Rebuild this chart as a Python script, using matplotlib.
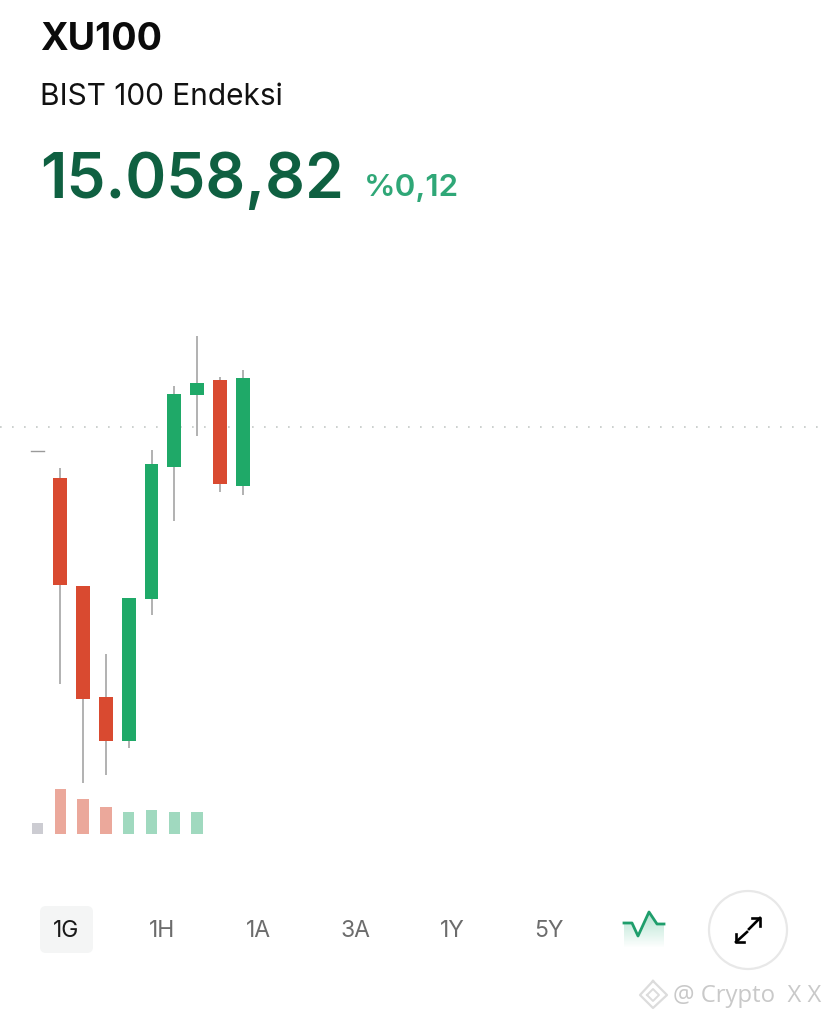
import numpy as np
import matplotlib
matplotlib.use("Agg")
import matplotlib.pyplot as plt
from matplotlib.patches import Circle, FancyBboxPatch

plt.rcParams['font.family'] = ['Inter', 'DejaVu Sans']

# candle data (price scale is estimated)
opens = [15035, 15008, 14900, 14789, 14745, 14887, 15019, 15091, 15106, 15000]
closes = [15035, 14901, 14787, 14745, 14888, 15022, 15092, 15103, 15002, 15108]
highs = [15035, 15018, 14900, 14832, 14888, 15036, 15100, 15150, 15109, 15116]
lows = [15035, 14802, 14703, 14711, 14738, 14871, 14965, 15050, 14994, 14991]
volumes = [11, 45, 35, 27, 22, 24, 22, 22]
last_price = 15059

ranges = ["1G", "1H", "1A", "3A", "1Y", "5Y"]
range_x = [66, 162, 258, 355, 452, 549]

GREEN = "#1fa968"
RED = "#d94a30"
WICK = "#9c9c9c"
W = 828
H = 1021

fig = plt.figure(figsize=(W / 100, H / 100), dpi=100, facecolor="white")

# price axes fills the figure, 1 px = 1 price unit
ax = fig.add_axes([0, 0, 1, 1])
ax.set_xlim(-37.5 / 22.8, (W - 37.5) / 22.8)
ax.set_ylim(15486 - H, 15486)
ax.axis("off")

ax.plot([ax.get_xlim()[0], (820 - 37.5) / 22.8], [last_price, last_price], color="#c4c8c6", lw=1.2,
        dashes=(1, 6.2), zorder=1)

for i in range(len(opens)):
    o, c = opens[i], closes[i]
    if o == c:
        # doji, only a small dash
        ax.plot([i - 0.3, i + 0.3], [o, o], color="#9a9a9a", lw=1, zorder=2)
        continue
    col = GREEN if c > o else RED
    ax.plot([i, i], [lows[i], highs[i]], color=WICK, lw=1.1, zorder=2, solid_capstyle="butt")
    ax.bar(i, abs(c - o), bottom=min(o, c), width=0.6, color=col, zorder=3)

# volume bars
vax = fig.add_axes([0, (H - 834) / H, 1, 60 / H])
vax.set_xlim(ax.get_xlim())
vax.set_ylim(0, 60)
vax.axis("off")
vcols = ["#ccccd2"]
for i in range(1, len(volumes)):
    vcols.append("#a0d9bf" if closes[i] > opens[i] else "#eba89b")
vax.bar(range(len(volumes)), volumes, width=0.5, color=vcols)

# overlay in pixel coordinates for header and buttons
ov = fig.add_axes([0, 0, 1, 1])
ov.set_xlim(0, W)
ov.set_ylim(H, 0)
ov.axis("off")
ov.patch.set_alpha(0)

ov.text(40, 40, "XU100", fontsize=27, fontweight="bold", color="#0b0b0b", va="center", ha="left")
ov.text(40, 97, "BIST 100 Endeksi", fontsize=21.5, color="#111111", va="center", ha="left")
ov.text(40, 181, "15.058,82", fontsize=44.8, fontweight="semibold", color="#0f6041", va="center", ha="left")
ov.text(364, 188, "%0,12", fontsize=22.6, fontweight="semibold", color="#2fa777", va="center", ha="left")

ov.add_patch(FancyBboxPatch((40, 906), 53, 47, boxstyle="round,pad=0,rounding_size=6",
                            mutation_aspect=1, fc="#f4f5f5", ec="none"))
for lab, x in zip(ranges, range_x):
    ov.text(x, 931, lab, fontsize=16.5, color="#1a1a1a" if lab == "1G" else "#6c6c6c",
            va="center", ha="center")

# chart type icon
ix = np.array([624, 632, 638, 649, 657, 664])
iy = np.array([923, 923, 936, 912, 924, 924])
grad = np.linspace(0.4, 0, 64).reshape(-1, 1)
gcol = np.zeros((64, 1, 4))
gcol[:, :, :3] = matplotlib.colors.to_rgb("#3fb98a")
gcol[:, :, 3] = grad
im = ov.imshow(gcol, extent=(624, 664, 948, 912), aspect="auto", zorder=2)
clip = ov.fill(np.r_[ix, 664, 624], np.r_[iy, 948, 948], color="none")[0]
im.set_clip_path(clip)
ov.plot(ix, iy, color="#1f9e6c", lw=2, zorder=3, solid_joinstyle="round")
ov.set_xlim(0, W)
ov.set_ylim(H, 0)

# expand button, two arrows with a gap in the middle
ov.add_patch(Circle((748, 930), 39, fc="white", ec="#e8e8e8", lw=1.6))
ov.plot([749, 760], [929, 918], color="black", lw=1.9)
ov.plot([752, 760, 760], [918, 918, 926], color="black", lw=1.9)
ov.plot([736, 747], [942, 932], color="black", lw=1.9)
ov.plot([736, 736, 744], [934, 942, 942], color="black", lw=1.9)

# watermark
ov.text(673, 996, "@ Crypto  X X", fontsize=17.2, color="#c9c9c9", va="center", ha="left",
        family="Open Sans")
dx = np.array([653, 667, 653, 640, 653])
dy = np.array([981, 995, 1008, 995, 981])
ov.plot(dx, dy, color="#dcdcdc", lw=1.6)
ov.plot([647, 653, 659, 653, 647], [995, 989, 995, 1001, 995], color="#dcdcdc", lw=1.4)

fig.savefig("out.png", dpi=100)
